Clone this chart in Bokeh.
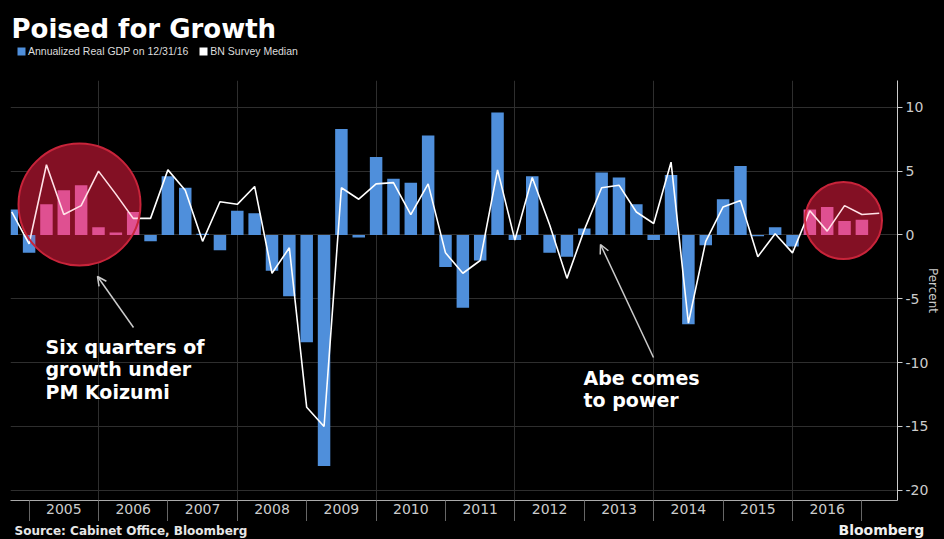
from bokeh.plotting import figure
from bokeh.layouts import column
from bokeh.models import (ColumnDataSource, FixedTicker, Label, Arrow, OpenHead,
                          Legend, LegendItem)
from bokeh.embed import file_html
from bokeh.resources import INLINE

# ---------------- data ----------------
QUARTERS = ["2004Q3", "2004Q4",
            "2005Q1", "2005Q2", "2005Q3", "2005Q4",
            "2006Q1", "2006Q2", "2006Q3", "2006Q4",
            "2007Q1", "2007Q2", "2007Q3", "2007Q4",
            "2008Q1", "2008Q2", "2008Q3", "2008Q4",
            "2009Q1", "2009Q2", "2009Q3", "2009Q4",
            "2010Q1", "2010Q2", "2010Q3", "2010Q4",
            "2011Q1", "2011Q2", "2011Q3", "2011Q4",
            "2012Q1", "2012Q2", "2012Q3", "2012Q4",
            "2013Q1", "2013Q2", "2013Q3", "2013Q4",
            "2014Q1", "2014Q2", "2014Q3", "2014Q4",
            "2015Q1", "2015Q2", "2015Q3", "2015Q4",
            "2016Q1", "2016Q2", "2016Q3", "2016Q4"]
SURVEY_QUARTERS = QUARTERS + ["2017Q1"]

GDP = [2.0, -1.4,
       2.4, 3.5, 3.9, 0.6,
       0.2, 1.8, -0.5, 4.6,
       3.7, 0.1, -1.2, 1.9,
       1.7, -2.8, -4.8, -8.4,
       -18.1, 8.3, -0.2, 6.1,
       4.4, 4.1, 7.8, -2.5,
       -5.7, -2.0, 9.6, -0.4,
       4.6, -1.4, -1.7, 0.5,
       4.9, 4.5, 2.4, -0.4,
       4.7, -7.0, -0.8, 2.8,
       5.4, -0.1, 0.6, -0.9,
       2.0, 2.2, 1.1, 1.2]

SURVEY = [1.8, -0.7,
          5.5, 1.6, 2.3, 5.0,
          3.2, 1.3, 1.3, 5.1,
          3.5, -0.5, 2.6, 2.4,
          3.8, -3.0, -1.0, -13.5,
          -15.0, 3.7, 2.8, 4.0,
          4.1, 1.6, 4.0, -1.4,
          -3.0, -2.0, 5.1, -0.4,
          4.5, 0.8, -3.4, 0.4,
          3.7, 3.9, 1.8, 0.9,
          5.7, -6.9, -0.5, 2.2,
          2.7, -1.7, 0.1, -1.4,
          1.9, 0.3, 2.3, 1.6,
          1.7]

YEARS = ["2005", "2006", "2007", "2008", "2009", "2010",
         "2011", "2012", "2013", "2014", "2015", "2016"]
Y_TICKS = [-20, -15, -10, -5, 0, 5, 10]

KOIZUMI_QUARTERS = ["2005Q1", "2005Q2", "2005Q3", "2005Q4", "2006Q1", "2006Q2"]
RECENT_QUARTERS = ["2016Q1", "2016Q2", "2016Q3", "2016Q4"]

TITLE = "Poised for Growth"
LEGEND_LABELS = ["Annualized Real GDP on 12/31/16", "BN Survey Median"]
KOIZUMI_NOTE = ["Six quarters of", "growth under", "PM Koizumi"]
ABE_NOTE = ["Abe comes", "to power"]
SOURCE = "Source: Cabinet Office, Bloomberg"
BRAND = "Bloomberg"

# ---------------- styling / geometry ----------------
W = 944
HEADER_H, MAIN_H, FOOTER_H = 80, 441, 18
FL, FR, FT, FB = 10, 897, 80, 500          # frame in page pixels
X0, X1 = 2004.732, 2017.513
Y0, Y1 = -20.8, 12.1

BLUE = "#4f8fdb"
PINK = "#da559c"
GRID = "#2e2e2e"
LIGHT = "#cccccc"
FONT = "DejaVu Sans"


def dx(px):
    return X0 + (px - FL) * (X1 - X0) / (FR - FL)


def dy(py):
    return Y1 - (py - FT) * (Y1 - Y0) / (FB - FT)


def qx(label):
    year, q = label.split("Q")
    return int(year) + int(q) / 4.0  # plotted at quarter end


def blank(height, y_top):
    # a full-bleed panel whose coordinates are page pixels
    return figure(width=W, height=height, x_range=(0, W), y_range=(y_top + height, y_top),
                  x_axis_type=None, y_axis_type=None, toolbar_location=None,
                  output_backend="svg", min_border=0, frame_align=False,
                  background_fill_color="black", border_fill_color=None,
                  outline_line_color=None)


def text_label(fig, x, y, text, size, bold=True, color="white", font=FONT):
    # y is the vertical centre of the text line
    fig.add_layout(Label(x=x, y=y, text=text, text_font=font,
                         text_font_style="bold" if bold else "normal",
                         text_font_size=size, text_color=color,
                         text_baseline="middle"))


# ---------------- header ----------------
header = blank(HEADER_H, 0)
text_label(header, 11, 28, TITLE, "26px")
proxy_gdp = header.vbar(x=[-100], top=[0], width=1, fill_color=BLUE, line_color=None)
proxy_survey = header.vbar(x=[-100], top=[0], width=1, fill_color="white", line_color=None)
legend = Legend(items=[LegendItem(label=LEGEND_LABELS[0], renderers=[proxy_gdp]),
                       LegendItem(label=LEGEND_LABELS[1], renderers=[proxy_survey])],
                location=(16, HEADER_H - 58), orientation="horizontal",
                glyph_width=10, glyph_height=10, label_height=14, label_standoff=2,
                spacing=10, padding=0, margin=0,
                background_fill_alpha=0, border_line_color=None,
                label_text_color="#dddddd", label_text_font="Liberation Sans",
                label_text_font_size="10.5px")
header.add_layout(legend)

# ---------------- main chart ----------------
highlight = set(KOIZUMI_QUARTERS) | set(RECENT_QUARTERS)
bar_src = ColumnDataSource(dict(
    x=[qx(q) for q in QUARTERS],
    gdp=GDP,
    color=[PINK if q in highlight else BLUE for q in QUARTERS],
))
line_src = ColumnDataSource(dict(x=[qx(q) for q in SURVEY_QUARTERS], y=SURVEY))

# highlight circles (centre in data space, diameter in px)
CIRCLES = dict(x=[dx(79), dx(843)], y=[dy(204), dy(220)], size=[122, 77])

p = figure(width=W, height=MAIN_H, x_range=(X0, X1), y_range=(Y0, Y1),
           output_backend="svg", toolbar_location=None, title=None,
           y_axis_location="right", frame_align=False,
           min_border_left=FL, min_border_right=W - FR,
           min_border_top=0, min_border_bottom=MAIN_H - (FB - FT),
           background_fill_color="black", border_fill_color=None,
           outline_line_color=None)

p.ygrid.ticker = FixedTicker(ticks=Y_TICKS)
p.ygrid.grid_line_color = GRID
p.xgrid.ticker = FixedTicker(ticks=[int(y) for y in YEARS[1::2]])
p.xgrid.grid_line_color = GRID

p.scatter(x=CIRCLES["x"], y=CIRCLES["y"], size=CIRCLES["size"], marker="circle",
          fill_color="#6e0a1c", line_color=None)
p.vbar(x="x", top="gdp", bottom=0, width=0.18, fill_color="color",
       line_color=None, source=bar_src)
p.line(x="x", y="y", source=line_src, line_color="white", line_width=1.6)
p.scatter(x=CIRCLES["x"], y=CIRCLES["y"], size=CIRCLES["size"], marker="circle",
          fill_color="#ff3355", fill_alpha=0.15, line_color="#c8243a", line_width=2)

xa = p.xaxis[0]
xa.ticker = FixedTicker(ticks=[int(y) + 0.5 for y in YEARS],
                        minor_ticks=[int(y) for y in YEARS] + [int(YEARS[-1]) + 1])
xa.major_label_overrides = {int(y) + 0.5: y for y in YEARS}
xa.major_tick_line_color = None
xa.major_tick_in = 0
xa.major_tick_out = 0
xa.minor_tick_in = 0
xa.minor_tick_out = 23
xa.minor_tick_line_color = "#666666"
xa.axis_line_color = "#aaaaaa"
xa.major_label_text_color = LIGHT
xa.major_label_text_font = FONT
xa.major_label_text_font_size = "14px"
xa.major_label_standoff = -20

ya = p.yaxis[0]
ya.ticker = FixedTicker(ticks=Y_TICKS)
ya.major_label_overrides = {t: str(t) for t in Y_TICKS}
ya.major_tick_in = 0
ya.major_tick_out = 5
ya.minor_tick_line_color = None
ya.major_tick_line_color = LIGHT
ya.axis_line_color = LIGHT
ya.major_label_text_color = LIGHT
ya.major_label_text_font = FONT
ya.major_label_text_font_size = "14px"
ya.major_label_standoff = 3
ya.axis_label = "Percent"
ya.axis_label_text_font = FONT
ya.axis_label_text_font_style = "normal"
ya.axis_label_text_font_size = "12px"
ya.axis_label_text_color = LIGHT
ya.axis_label_standoff = -5

for i, t in enumerate(KOIZUMI_NOTE):
    text_label(p, dx(45), dy(346 + i * 22.5), t, "19px")
for i, t in enumerate(ABE_NOTE):
    text_label(p, dx(583), dy(377 + i * 22), t, "19px")

for (x0, y0, x1, y1) in [(133, 327, 97, 276), (653, 357, 600, 244)]:
    p.add_layout(Arrow(x_start=dx(x0), y_start=dy(y0), x_end=dx(x1), y_end=dy(y1),
                       line_color=LIGHT, line_width=1.5,
                       end=OpenHead(size=9, line_color=LIGHT, line_width=1.5)))

# ---------------- footer ----------------
footer = blank(FOOTER_H, HEADER_H + MAIN_H)
text_label(footer, 14, 530, SOURCE, "12px", color="#e6e6e6")
text_label(footer, 838, 529.5, BRAND, "14px", color="#f0f0f0")

layout = column(header, p, footer, spacing=0, styles={"background-color": "black"})
html = file_html(layout, INLINE)
html = html.replace("<head>", "<head><style>html,body{background:#000;margin:0;}</style>", 1)
open("out.html", "w").write(html)
